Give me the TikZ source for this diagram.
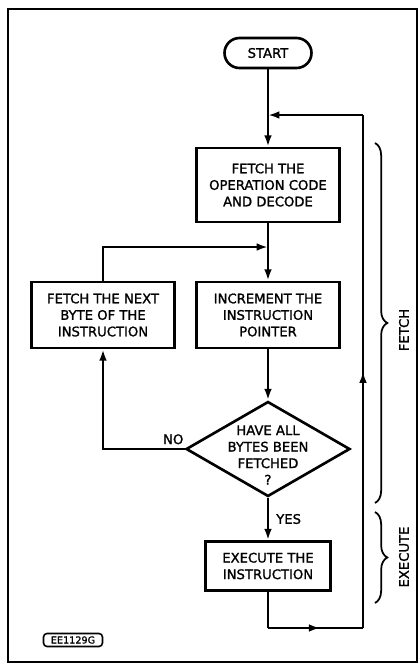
\documentclass[tikz,border=0pt]{standalone}
\usepackage{fontspec}
\setmainfont{DejaVu Sans}[FakeBold=1.3]
\usetikzlibrary{positioning,arrows.meta,shapes.geometric,decorations.pathreplacing,decorations.markings}

\newcommand{\diamondtext}[1]{\makebox[0pt]{\raisebox{-6pt}[0pt][0pt]{\begin{tabular}{@{}c@{}}#1\end{tabular}}}}

\tikzset{
  flowbox/.style={draw, line width=1.5pt, align=center, inner sep=2pt,
    minimum width=2.86cm, minimum height=1.32cm,
    font=\fontsize{7.5}{9.4}\selectfont},
  startbox/.style={flowbox, rounded corners=0.3cm, minimum width=1.74cm, minimum height=0.6cm},
  testbox/.style={draw, diamond, line width=1.5pt, inner sep=0pt,
    minimum width=3.28cm, minimum height=1.9cm, font=\fontsize{7.5}{9.4}\selectfont},
  labeltext/.style={inner sep=1pt, font=\fontsize{7.5}{9}\selectfont},
  refbox/.style={draw, line width=0.9pt, rounded corners=2pt, inner sep=1pt,
    minimum width=1.18cm, minimum height=0.26cm, font=\fontsize{5.5}{6}\selectfont},
  flowline/.style={line width=1.4pt},
  flowarrow/.style={flowline, -{Latex[length=6.5pt,width=4.4pt]}},
  midarrow/.style={postaction={decorate}, decoration={markings,
    mark=at position #1 with {\arrow{Latex[length=6.5pt,width=4.4pt]}}}},
  sidebrace/.style={line width=1pt, decorate, decoration={brace, amplitude=7pt}},
  sidelabel/.style={rotate=90, font=\fontsize{7.5}{9}\selectfont}
}

\begin{document}
\begin{tikzpicture}[x=0.02cm, y=-0.02cm]
  \useasboundingbox (0,0) rectangle (419,664);
  \draw[line width=0.8pt] (8,9) rectangle (417,662);

  % steps
  \node[startbox] (start) at (268,53) {START};
  \node[flowbox, minimum height=1.48cm] (opcode) at (268,185) {FETCH THE\\OPERATION CODE\\AND DECODE};
  \node[flowbox] (incr) at (268,315) {INCREMENT THE\\INSTRUCTION\\POINTER};
  \node[flowbox] (nextbyte) at (103,315) {FETCH THE NEXT\\BYTE OF THE\\INSTRUCTION};
  \node[testbox] (done) at (268,449) {\diamondtext{HAVE ALL\\BYTES BEEN\\FETCHED\\?}};
  \node[flowbox, minimum width=2.5cm, minimum height=0.98cm] (exec) at (268,566) {EXECUTE THE\\INSTRUCTION};

  % joins and loop corners
  \coordinate (join1) at (268,115);
  \coordinate (join2) at (268,247);
  \coordinate (loopturn) at (268,628);
  \coordinate (loopcorner) at (363,628);
  \coordinate (looptop) at (363,115);

  \draw[flowarrow] (start) -- (opcode);
  \draw[flowarrow] (opcode) -- (incr);
  \draw[flowarrow] (incr) -- (done);
  \draw[flowarrow] (done) -- node[right=3pt, labeltext] {YES} (exec);
  \draw[flowarrow] (done.west) -| node[pos=0.07, above=1pt, labeltext] {NO} (nextbyte);
  \draw[flowarrow] (nextbyte) |- (join2);
  \draw[flowline] (exec) -- (loopturn);
  \draw[flowline, midarrow=0.55] (loopturn) -- (loopcorner);
  \draw[flowline, midarrow=0.5] (loopcorner) -- (looptop);
  \draw[flowarrow] (looptop) -- (join1);

  % phases
  \draw[sidebrace] (375,143) -- (375,503);
  \draw[sidebrace] (375,512) -- (375,603);
  \node[sidelabel] (fetchlbl) at (404,330) {FETCH};
  \node[sidelabel] (execlbl) at (404,557) {EXECUTE};

  \node[refbox] (figref) at (73,640) {EE1129G};
\end{tikzpicture}
\end{document}
